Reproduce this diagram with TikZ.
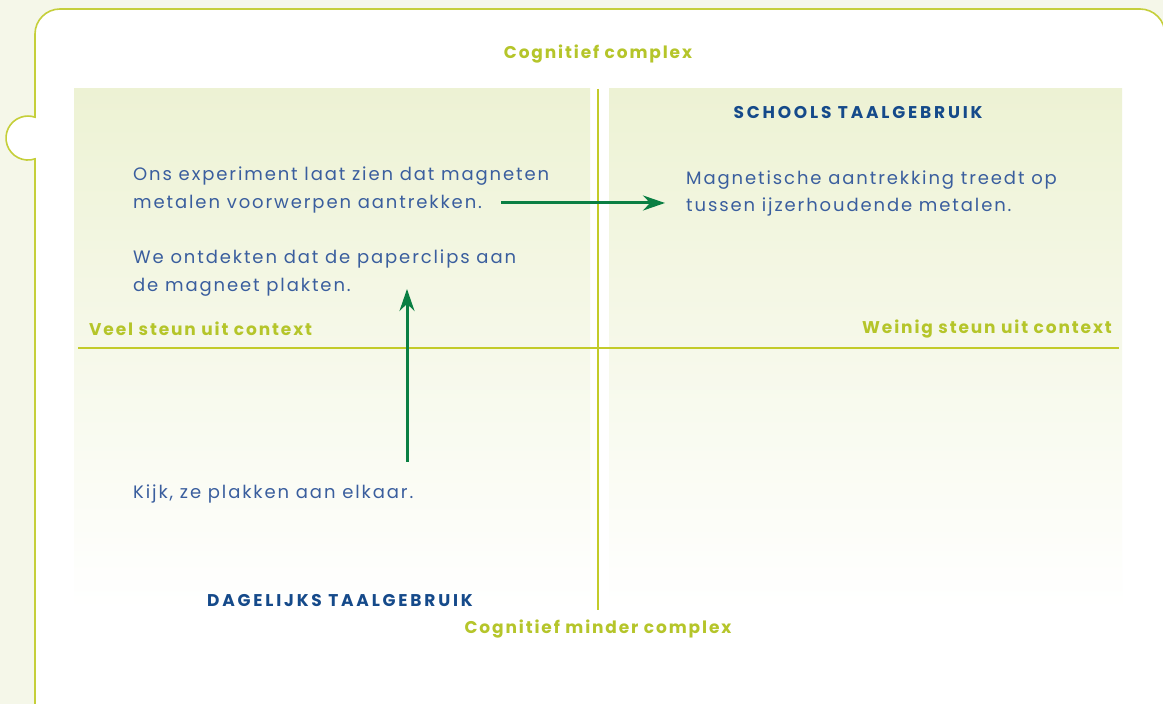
\documentclass[tikz,border=0pt]{standalone}
\usepackage{fontspec}
\setmainfont{Poppins}
\newfontfamily\bodyfont[LetterSpace=10.5]{Poppins}
\newfontfamily\labfont[LetterSpace=11]{Poppins}
\newfontfamily\headfont[LetterSpace=16.5]{Poppins}
\usetikzlibrary{arrows.meta}
\definecolor{bgout}{HTML}{F5F7E9}
\definecolor{cardline}{HTML}{C5CF3A}
\definecolor{axis}{HTML}{C3CB2A}
\definecolor{lab}{HTML}{B5C52A}
\definecolor{body}{HTML}{3A5E9E}
\definecolor{head}{HTML}{154A8A}
\definecolor{arr}{HTML}{0A7F43}
\definecolor{paneltop}{HTML}{EDF2D4}
\tikzset{
  bodytext/.style={font=\bodyfont\fontsize{18}{27.5}\selectfont, text=body, align=left, inner sep=0pt},
  labtext/.style={font=\labfont\fontsize{17}{20}\selectfont\bfseries, text=lab, inner sep=0pt},
  headtext/.style={font=\headfont\fontsize{17}{20}\selectfont\bfseries, text=head, inner sep=0pt},
  panel/.style={top color=paneltop, bottom color=white, draw=none},
  axisline/.style={draw=axis, line width=2.6pt},
  arrline/.style={draw=arr, line width=3pt, -{Stealth[length=22pt,width=15pt]}}
}
\begin{document}
\begin{tikzpicture}[x=1pt,y=1pt]
\useasboundingbox (0,0) rectangle (1163,704);
\clip (0,0) rectangle (1163,704);
\fill[bgout] (0,0) rectangle (1163,704);
% card with puzzle notch
\filldraw[fill=white, draw=cardline, line width=1.6pt]
  (35,-40) -- (35,545.1) arc[start angle=-71.45, end angle=-288.55, radius=22]
  -- (35,670) arc[start angle=180, end angle=90, radius=25]
  -- (1140,695) arc[start angle=90, end angle=0, radius=25]
  -- (1165,-40) -- cycle;
% panels
\fill[panel] (74,94) rectangle (590,615);
\fill[panel] (609,94) rectangle (1122,615);
% axes
\draw[axisline] (598,615) -- (598,94);
\draw[axisline] (78,356) -- (1119,356);
% labels
\node[labtext] (top) at (598,650) {Cognitief complex};
\node[labtext] (bottom) at (598,75) {Cognitief minder complex};
\node[labtext, anchor=west] (left) at (89,375) {Veel steun uit context};
\node[labtext, anchor=east] (right) at (1112,375) {Weinig steun uit context};
\node[headtext] (school) at (858,591) {SCHOOLS TAALGEBRUIK};
\node[headtext] (daily) at (340,103) {DAGELIJKS TAALGEBRUIK};
% body texts
\node[bodytext, anchor=west] (t1) at (133,514) {Ons experiment laat zien dat magneten\\metalen voorwerpen aantrekken.};
\node[bodytext, anchor=west] (t2) at (133,431) {We ontdekten dat de paperclips aan\\de magneet plakten.};
\node[bodytext, anchor=west] (t3) at (686,510.5) {Magnetische aantrekking treedt op\\tussen ijzerhoudende metalen.};
\node[bodytext, anchor=west] (t4) at (133,210) {Kijk, ze plakken aan elkaar.};
% arrows
\coordinate (h1) at (501,501);
\coordinate (h2) at (665,501);
\coordinate (v1) at (407,242);
\coordinate (v2) at (407,415);
\draw[arrline] (h1) -- (h2);
\draw[arrline] (v1) -- (v2);
\end{tikzpicture}
\end{document}
